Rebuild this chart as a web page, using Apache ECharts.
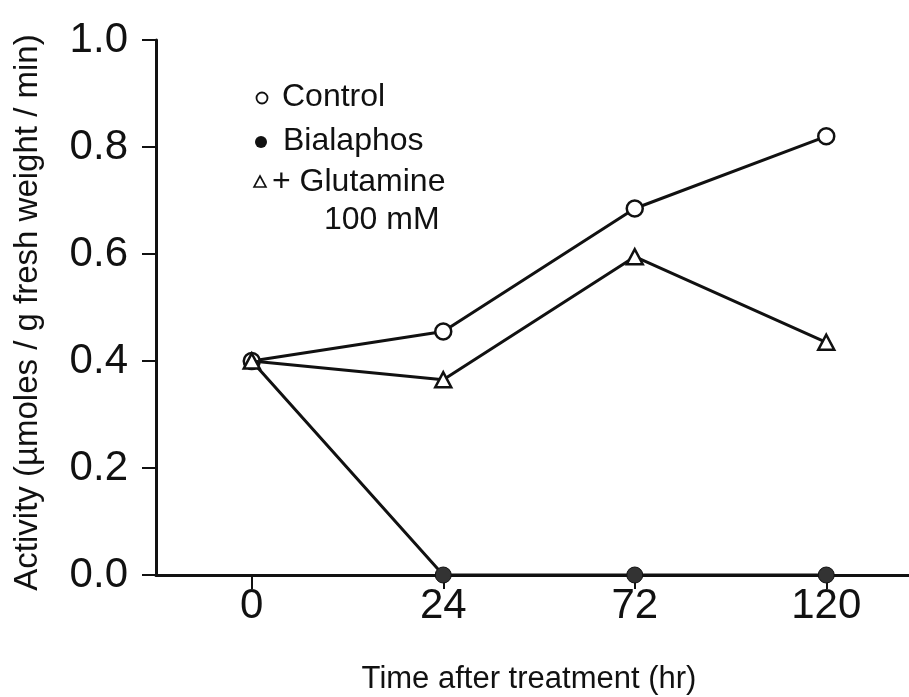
<!DOCTYPE html>
<html>
<head>
<meta charset="utf-8">
<script src="https://cdn.jsdelivr.net/npm/echarts@6/dist/echarts.min.js"></script>
<style>
html,body{margin:0;padding:0;background:#fff;}
#chart{width:909px;height:697px;}
</style>
</head>
<body>
<div id="chart"></div>
<script>
// ---- data ----
var categories = ['0', '24', '72', '120'];
var controlValues = [0.40, 0.455, 0.685, 0.82];
var bialaphosValues = [0.40, 0.0, 0.0, 0.0];
var glutamineValues = [0.40, 0.365, 0.595, 0.435];
var yTicks = [0.0, 0.2, 0.4, 0.6, 0.8, 1.0];
var seriesNames = ['Control', 'Bialaphos', '+ Glutamine'];
var legendSubLine = '100 mM';
var xAxisTitle = 'Time after treatment (hr)';
var yAxisTitle = 'Activity (\u00b5moles / g fresh weight / min)';

var FONT = "'Liberation Sans', Arial, Helvetica, sans-serif";
var INK = '#111';

var chart = echarts.init(document.getElementById('chart'), null, {renderer: 'canvas'});

var option = {
  backgroundColor: '#fff',
  animation: false,
  grid: {left: 156, width: 766, top: 40, bottom: 122, containLabel: false, outerBoundsMode: 'none'},
  xAxis: {
    type: 'category',
    data: categories,
    boundaryGap: true,
    axisLine: {show: true, lineStyle: {color: INK, width: 3}},
    axisTick: {show: true, alignWithLabel: true, length: 14, lineStyle: {color: INK, width: 2}},
    axisLabel: {color: INK, fontFamily: FONT, fontSize: 42, margin: 10},
    splitLine: {show: false},
    name: xAxisTitle,
    nameLocation: 'middle',
    nameGap: 89,
    nameTextStyle: {color: INK, fontFamily: FONT, fontSize: 31, padding: [0, 20, 0, 0]}
  },
  yAxis: {
    type: 'value',
    min: yTicks[0],
    max: yTicks[yTicks.length - 1],
    interval: 0.2,
    axisLine: {show: true, lineStyle: {color: INK, width: 3}},
    axisTick: {show: true, length: 14, lineStyle: {color: INK, width: 2}},
    axisLabel: {color: INK, fontFamily: FONT, fontSize: 42, margin: 28,
      formatter: function (v) { return v.toFixed(1); }},
    splitLine: {show: false},
    name: yAxisTitle,
    nameLocation: 'middle',
    nameRotate: 90,
    nameGap: 112,
    nameTextStyle: {color: INK, fontFamily: FONT, fontSize: 33, padding: [0, 10, 0, 0]}
  },
  series: [
    {
      name: seriesNames[1],
      type: 'line',
      data: bialaphosValues,
      clip: false,
      symbol: 'circle',
      symbolSize: 16,
      lineStyle: {color: INK, width: 3},
      itemStyle: {color: '#333', borderColor: INK, borderWidth: 1},
      z: 2
    },
    {
      name: seriesNames[0],
      type: 'line',
      data: controlValues,
      clip: false,
      symbol: 'circle',
      symbolSize: 16,
      lineStyle: {color: INK, width: 3},
      itemStyle: {color: '#fff', borderColor: INK, borderWidth: 2.5},
      z: 3
    },
    {
      name: seriesNames[2],
      type: 'line',
      data: glutamineValues,
      clip: false,
      symbol: 'triangle',
      symbolSize: [16, 15],
      lineStyle: {color: INK, width: 3},
      itemStyle: {color: '#fff', borderColor: INK, borderWidth: 2.5},
      z: 4
    }
  ],
  graphic: [
    {type: 'circle', shape: {cx: 262, cy: 98, r: 5.5},
      style: {fill: '#fff', stroke: INK, lineWidth: 1.8}},
    {type: 'text', left: 282, top: 98 - 17,
      style: {text: seriesNames[0], fill: INK, font: '32px ' + FONT}},
    {type: 'circle', shape: {cx: 261, cy: 142, r: 6},
      style: {fill: INK}},
    {type: 'text', left: 283, top: 142 - 17,
      style: {text: seriesNames[1], fill: INK, font: '32px ' + FONT}},
    {type: 'polygon', shape: {points: [[260, 176], [266, 187], [254, 187]]},
      style: {fill: '#fff', stroke: INK, lineWidth: 1.6}},
    {type: 'text', left: 272, top: 183 - 17,
      style: {text: seriesNames[2], fill: INK, font: '32px ' + FONT}},
    {type: 'text', left: 324, top: 221 - 17,
      style: {text: legendSubLine, fill: INK, font: '32px ' + FONT}}
  ]
};
chart.setOption(option);
</script>
</body>
</html>
